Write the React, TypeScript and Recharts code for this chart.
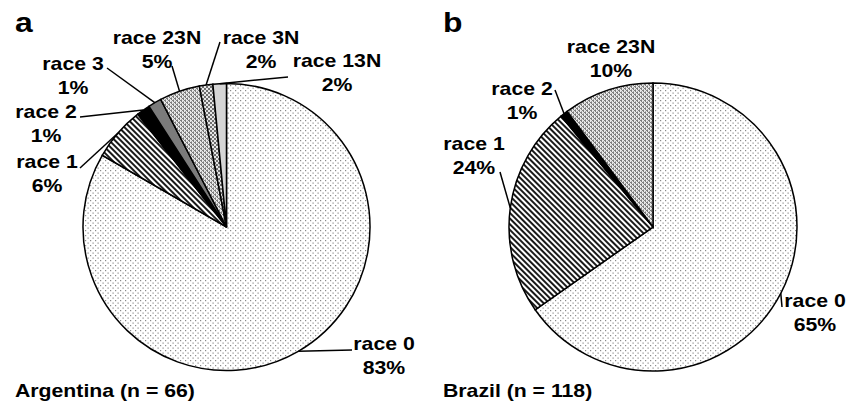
import { PieChart, Pie, Cell } from 'recharts';

// Argentina (n = 66), isolate counts per race, clockwise from 12 o'clock
const argRaces = ['race 0', 'race 1', 'race 2', 'race 3', 'race 23N', 'race 3N', 'race 13N'];
const argCounts = [55, 4, 1, 1, 3, 1, 1];
const argPercents = ['83%', '6%', '1%', '1%', '5%', '2%', '2%'];

// Brazil (n = 118)
const brzRaces = ['race 0', 'race 1', 'race 2', 'race 23N'];
const brzCounts = [77, 28, 1, 12];
const brzPercents = ['65%', '24%', '1%', '10%'];

const panelTitles = ['Argentina (n = 66)', 'Brazil (n = 118)'];
const panelLetters = ['a', 'b'];

const fillByRace: Record<string, string> = {
  'race 0': 'url(#pDots)',
  'race 1': 'url(#pHatch)',
  'race 2': '#000000',
  'race 3': '#7b7b7b',
  'race 23N': 'url(#pWeave)',
  'race 3N': 'url(#pChecker)',
  'race 13N': '#d6d6d6',
};

// label placement: text centre x, first baseline y, leader start (none = no leader)
type LabelPos = { x: number; y: number; lx?: number; ly?: number };
const argLabelPos: LabelPos[] = [
  { x: 384, y: 350, lx: 352, ly: 350 },
  { x: 47, y: 168, lx: 80, ly: 168 },
  { x: 46, y: 118, lx: 80, ly: 117 },
  { x: 73, y: 70, lx: 107, ly: 68 },
  { x: 157, y: 44, lx: 172, ly: 66 },
  { x: 261, y: 44, lx: 220, ly: 42 },
  { x: 337, y: 67, lx: 288, ly: 77 },
];
const brzLabelPos: LabelPos[] = [
  { x: 815, y: 307, lx: 782, ly: 307 },
  { x: 474, y: 150, lx: 500, ly: 172 },
  { x: 522, y: 95, lx: 555, ly: 90 },
  { x: 611, y: 53 },
];

const FONT = '"Liberation Sans", Arial, sans-serif';
const RADIAN = Math.PI / 180;

const StretchText = ({ x, y, size, anchor, children }: any) => (
  <text
    transform={`translate(${x},${y}) scale(1.18,1)`}
    textAnchor={anchor}
    fontFamily={FONT}
    fontWeight="bold"
    fontSize={size}
    fill="#000"
  >
    {children}
  </text>
);

const makeLabel = (races: string[], percents: string[], pos: LabelPos[]) => (props: any) => {
  const { cx, cy, midAngle, outerRadius, index } = props;
  const p = pos[index];
  const ex = cx + outerRadius * Math.cos(-midAngle * RADIAN);
  const ey = cy + outerRadius * Math.sin(-midAngle * RADIAN);
  return (
    <g key={`lbl-${index}`}>
      {p.lx !== undefined && (
        <line x1={p.lx} y1={p.ly} x2={ex} y2={ey} stroke="#000" strokeWidth={1.5} />
      )}
      <StretchText x={p.x} y={p.y} size={18} anchor="middle">{races[index]}</StretchText>
      <StretchText x={p.x} y={p.y + 24} size={18} anchor="middle">{percents[index]}</StretchText>
    </g>
  );
};

export default function App() {
  const argData = argRaces.map((race, i) => ({ race, count: argCounts[i] }));
  const brzData = brzRaces.map((race, i) => ({ race, count: brzCounts[i] }));

  return (
    <div style={{ position: 'absolute', left: 0, top: 0, width: 860, height: 404, background: '#fff' }}>
      <svg width={0} height={0} style={{ position: 'absolute' }}>
        <defs>
          <pattern id="pDots" width={5} height={5} patternUnits="userSpaceOnUse">
            <rect width={5} height={5} fill="#fff" />
            <rect x={0} y={0} width={1.2} height={1.2} fill="#8a8a8a" />
            <rect x={2.5} y={2.5} width={1.2} height={1.2} fill="#8a8a8a" />
          </pattern>
          <pattern id="pHatch" width={4} height={4} patternUnits="userSpaceOnUse" patternTransform="rotate(45)">
            <rect width={4} height={4} fill="#fff" />
            <line x1={0} y1={2} x2={4} y2={2} stroke="#000" strokeWidth={1.8} />
          </pattern>
          <pattern id="pWeave" width={4} height={4} patternUnits="userSpaceOnUse">
            <rect width={4} height={4} fill="#e8e8e8" />
            <rect x={0} y={0} width={2} height={1} fill="#7c7c7c" />
            <rect x={1} y={1} width={1} height={1} fill="#7c7c7c" />
            <rect x={2} y={2} width={2} height={1} fill="#7c7c7c" />
            <rect x={3} y={3} width={1} height={1} fill="#7c7c7c" />
            <rect x={3} y={1} width={1} height={1} fill="#a8a8a8" />
            <rect x={1} y={3} width={1} height={1} fill="#a8a8a8" />
          </pattern>
          <pattern id="pChecker" width={4} height={4} patternUnits="userSpaceOnUse">
            <rect width={4} height={4} fill="#e6e6e6" />
            <rect x={0} y={0} width={2} height={2} fill="#6e6e6e" />
            <rect x={2} y={2} width={2} height={2} fill="#6e6e6e" />
          </pattern>
        </defs>
      </svg>

      <PieChart width={860} height={404} margin={{ top: 0, right: 0, bottom: 0, left: 0 }}>
        <Pie
          data={argData}
          dataKey="count"
          nameKey="race"
          cx={226.5}
          cy={227}
          outerRadius={143.5}
          startAngle={90}
          endAngle={-270}
          stroke="#000"
          strokeWidth={1.5}
          label={makeLabel(argRaces, argPercents, argLabelPos)}
          labelLine={false}
          isAnimationActive={false}
        >
          {argData.map((d, i) => (
            <Cell key={`a-${i}`} fill={fillByRace[d.race]} />
          ))}
        </Pie>
        <Pie
          data={brzData}
          dataKey="count"
          nameKey="race"
          cx={653}
          cy={227}
          outerRadius={144}
          startAngle={90}
          endAngle={-270}
          stroke="#000"
          strokeWidth={1.5}
          label={makeLabel(brzRaces, brzPercents, brzLabelPos)}
          labelLine={false}
          isAnimationActive={false}
        >
          {brzData.map((d, i) => (
            <Cell key={`b-${i}`} fill={fillByRace[d.race]} />
          ))}
        </Pie>
      </PieChart>

      <svg width={860} height={404} style={{ position: 'absolute', left: 0, top: 0, pointerEvents: 'none' }}>
        <StretchText x={15} y={32} size={27} anchor="start">{panelLetters[0]}</StretchText>
        <StretchText x={443} y={32} size={27} anchor="start">{panelLetters[1]}</StretchText>
        <StretchText x={15} y={397} size={18} anchor="start">{panelTitles[0]}</StretchText>
        <StretchText x={443} y={397} size={18} anchor="start">{panelTitles[1]}</StretchText>
      </svg>
    </div>
  );
}
